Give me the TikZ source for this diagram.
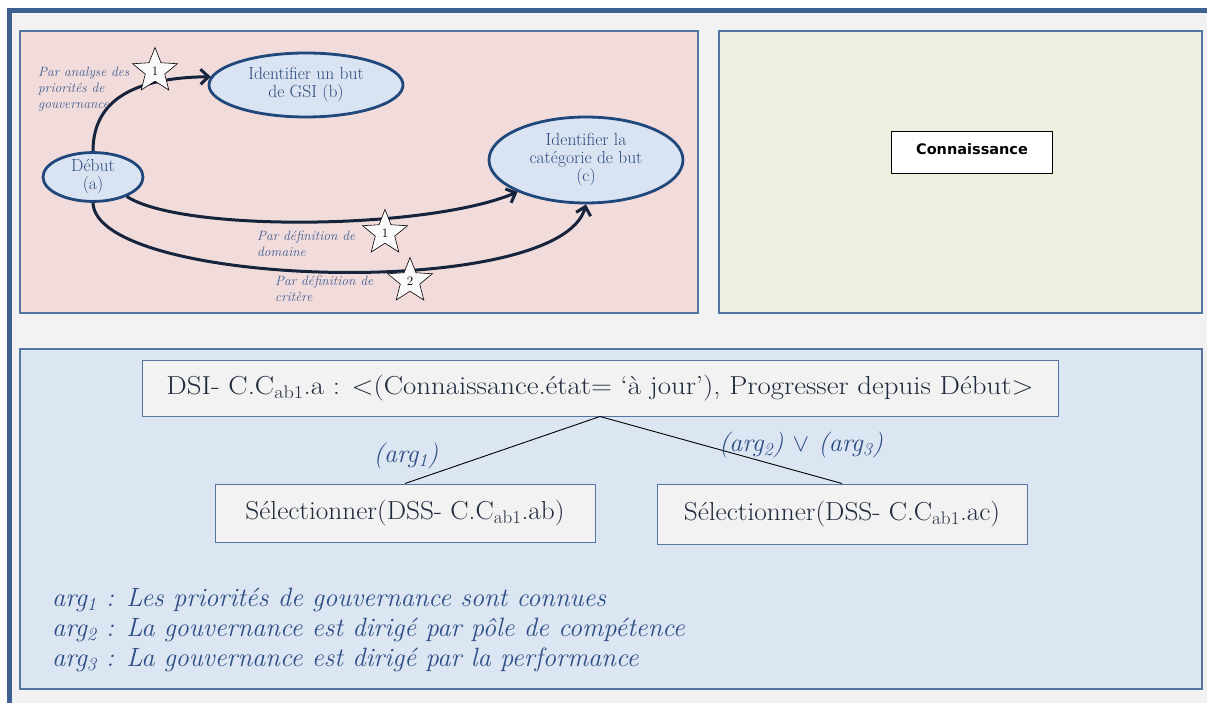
\documentclass[tikz,border=0pt]{standalone}
\usepackage{fontspec}
\newfontfamily\tahoma{DejaVu Sans}
\usetikzlibrary{shapes.geometric,arrows.meta}
\definecolor{bggray}{HTML}{F2F2F2}
\definecolor{frameblue}{HTML}{3E6191}
\definecolor{pinkbg}{HTML}{F2DCDB}
\definecolor{greenbg}{HTML}{EBF1DE}
\definecolor{bluebg}{HTML}{DCE6F2}
\definecolor{panelborder}{HTML}{5575A3}
\definecolor{ellfill}{HTML}{D9E3F1}
\definecolor{ellborder}{HTML}{1F477C}
\definecolor{elltext}{HTML}{2C4A7E}
\definecolor{arrowc}{HTML}{16233D}
\definecolor{lbltext}{HTML}{3D5D91}
\definecolor{argtext}{HTML}{2D4D85}
\definecolor{boxtext}{HTML}{1F2A3C}
\tikzset{
  panel/.style={draw=panelborder, line width=1.1pt},
  ell/.style={ellipse, draw=ellborder, fill=ellfill, line width=2.8pt, inner sep=0pt, align=center,
    text=elltext, font=\fontsize{17.5}{18}\selectfont},
  arr/.style={draw=arrowc, line width=3pt, -{Straight Barb[length=8pt,width=15pt]}},
  starsh/.style={star, star points=5, star point ratio=2.3, minimum size=47pt, inner sep=0pt,
    draw=black, line width=0.6pt, fill=white!96!gray, font=\fontsize{13}{13}\selectfont},
  lbl/.style={inner sep=0pt, align=left, text=lbltext, font=\fontsize{13.5}{16}\selectfont\itshape},
  tbox/.style={draw=panelborder, line width=1pt, fill=bggray, inner sep=0pt, text=boxtext,
    font=\fontsize{26}{30}\selectfont},
  kbox/.style={draw=black, line width=1pt, fill=white, inner sep=0pt},
  arglbl/.style={inner sep=0pt, text=argtext, font=\fontsize{26}{30}\selectfont\itshape},
  link/.style={draw=black, line width=0.9pt}
}
\begin{document}
\begin{tikzpicture}[x=1pt,y=-1pt]
\useasboundingbox (0,0) rectangle (1207,703);
\fill[white] (0,0) rectangle (1207,703);
\fill[bggray] (9.5,10.5) rectangle (1207,703);
\draw[frameblue, line width=5pt] (9.5,703) -- (9.5,10.5) -- (1207,10.5);
% panels
\draw[panel, fill=pinkbg] (20,31) rectangle (698,313);
\draw[panel, fill=greenbg] (719,31) rectangle (1202,313);
\draw[panel, fill=bluebg] (20,349) rectangle (1202,689);
% top-left diagram
\node[ell, minimum width=100pt, minimum height=46pt] (a) at (93,177) {Début\\(a)};
\node[ell, minimum width=194pt, minimum height=64pt] (b) at (306,85) {Identifier un but\\de GSI (b)};
\node[ell, minimum width=194pt, minimum height=86pt] (c) at (586,160) {Identifier la\\catégorie de but\\(c)};
\draw[arr] (a.north) .. controls +(0,-57) and +(-67,1) .. (b.175);
\draw[arr] (a.-30) .. controls +(55,36) and +(-90,38) .. (c.205);
\draw[arr] (a.south) .. controls +(3,85) and +(-26,97) .. (c.south);
\node[starsh] (s1) at (155,71) {1};
\node[starsh] (s2) at (385,233) {1};
\node[starsh] (s3) at (410,281) {2};
\node[lbl, anchor=north west] (l1) at (38,67) {Par analyse des\\priorités de\\gouvernance};
\node[lbl, anchor=north west] (l2) at (257,231) {Par définition de\\domaine};
\node[lbl, anchor=north west] (l3) at (275,276) {Par définition de\\critère};
% green panel
\node[kbox, minimum width=161pt, minimum height=42pt] (k) at (971.5,153) {};
\node[inner sep=0pt, font=\tahoma\bfseries\fontsize{14.5}{16}\selectfont] (kt) at (972,149) {Connaissance};
% bottom panel
\node[tbox, minimum width=916pt, minimum height=56pt] (top) at (600,388)
  {\scalebox{1.11}[1]{DSI- C.C\textsubscript{ab1}.a : <(Connaissance.état= ‘à jour’), Progresser depuis Début>}};
\node[tbox, minimum width=380pt, minimum height=58pt] (s1b) at (405,513)
  {\scalebox{1.05}[1]{Sélectionner(DSS- C.C\textsubscript{ab1}.ab)}};
\node[tbox, minimum width=370pt, minimum height=60pt] (s2b) at (842,514)
  {\scalebox{1.05}[1]{Sélectionner(DSS- C.C\textsubscript{ab1}.ac)}};
\draw[link] (top.south) -- (s1b.north);
\draw[link] (top.south) -- (s2b.north);
\node[arglbl] (g1) at (406,456) {(arg\textsubscript{1})};
\node[arglbl] (g2) at (801,445) {(arg\textsubscript{2}) $\vee$ (arg\textsubscript{3})};
\node[arglbl, anchor=north west, align=left, font=\fontsize{26.5}{30}\selectfont\itshape] (args) at (52,588)
  {arg\textsubscript{1} : Les priorités de gouvernance sont connues\\
   arg\textsubscript{2} : La gouvernance est dirigé par pôle de compétence\\
   arg\textsubscript{3} : La gouvernance est dirigé par la performance};
\end{tikzpicture}
\end{document}
